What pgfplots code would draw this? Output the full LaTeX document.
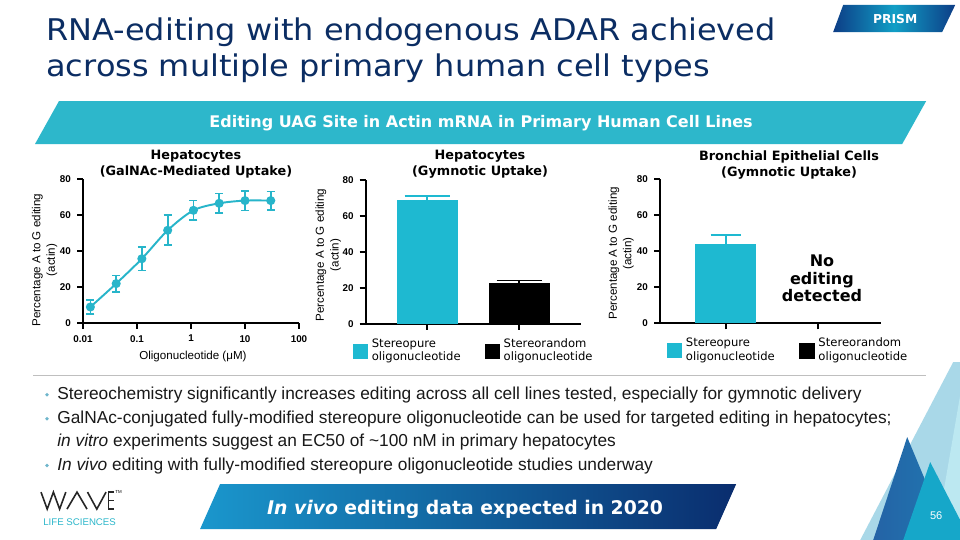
\documentclass[border=0pt]{standalone}
\usepackage{fontspec}
\setmainfont{Liberation Sans}
\newfontfamily\verd{DejaVu Sans}[ItalicFont={DejaVu Sans Oblique},BoldItalicFont={DejaVu Sans Bold Oblique}]
\newfontfamily\titlefont{DejaVu Sans}[FakeStretch=1.07]
\usepackage{pgfplots}
\pgfplotsset{compat=1.18}

\definecolor{navy}{HTML}{0B2D63}
\definecolor{wcyan}{HTML}{2DB7CB}
\definecolor{barcyan}{HTML}{1EB9D1}
\definecolor{linecyan}{HTML}{27B5CA}
\definecolor{tagdark}{HTML}{0D3D86}
\definecolor{taglight}{HTML}{119FC6}
\definecolor{bbleft}{HTML}{1A97CD}
\definecolor{bbright}{HTML}{0A2D6E}
\definecolor{dotc}{HTML}{6FB6CC}
\definecolor{lightc}{HTML}{A9D8E8}
\definecolor{paletri}{HTML}{BCE8F1}
\definecolor{bluetri}{HTML}{2463A6}
\definecolor{cyantri}{HTML}{16A7C9}

\pgfplotsset{
  panel/.style={
    scale only axis, anchor=south west, clip=false,
    axis x line*=bottom, axis y line*=left,
    axis line style={line width=1pt,-},
    tick style={line width=1pt, black},
    tick align=outside, major tick length=3.4pt,
    ymin=0, ymax=80, ytick={0,20,40,60,80},
    /pgf/number format/assume math mode=true,
    ticklabel style={font=\fontsize{5.6}{6.5}\selectfont\bfseries},
    ylabel={Percentage A to G editing\\(actin)},
    ylabel style={font=\fontsize{6.6}{8.3}\selectfont, align=center, anchor=center},
    every axis title shift=0pt,
    title style={font=\verd\bfseries\fontsize{7.3}{9.1}\selectfont, align=center, anchor=north, inner sep=0pt},
  },
  barlegend/.style={
    legend columns=2,
    legend style={draw=none, fill=none, anchor=west, inner sep=0pt,
      font=\verd\fontsize{6.6}{7.8}\selectfont,
      cells={align=left, anchor=west},
      /tikz/every even column/.append style={column sep=0.42cm}},
  },
}

\pgfplotstableread{
x      y     e
0.0137 8.9   3.8
0.0412 21.9  4.5
0.123  35.7  6.5
0.370  51.5  8.3
1.11   62.6  5.5
3.33   66.5  5.4
10     68.0  5.5
30     68.0  5.1
}\galnac

\begin{document}
\begin{tikzpicture}
\path[use as bounding box] (0,0) rectangle (19.2,-10.8);

\begin{scope}[x=0.02cm, y=-0.02cm]
\fill[white] (0,0) rectangle (960,540);
% title
\node[anchor=base west, inner sep=0, font=\titlefont\fontsize{17}{20.5}\selectfont, text=navy] at (46,40) {RNA-editing with endogenous ADAR achieved};
\node[anchor=base west, inner sep=0, font=\titlefont\fontsize{17}{20.5}\selectfont, text=navy] at (46,76) {across multiple primary human cell types};
% PRISM tag
\shade[left color=tagdark, right color=tagdark, middle color=taglight] (843,5) -- (955,5) -- (942,32) -- (833,32) -- cycle;
\node[font=\verd\bfseries\fontsize{7}{8}\selectfont, text=white] at (895,19) {PRISM};
% banner
\fill[wcyan] (59,101) -- (926,101) -- (902,144) -- (35,144) -- cycle;
\node[anchor=base, inner sep=0, font=\verd\bfseries\fontsize{9.1}{10}\selectfont, text=white] at (481,127.7) {Editing UAG Site in Actin mRNA in Primary Human Cell Lines};
% separator
\draw[black!25, line width=0.8pt] (33,375.7) -- (926,375.7);
% bullets
\foreach \yy in {399.3,423.3,470} \fill[dotc] (47,\yy-4.6) circle (1.8);
\begin{scope}[every node/.style={anchor=base west, inner sep=0, font=\fontsize{9.85}{11}\selectfont, text=black!90}]
\node at (57,399.3) {Stereochemistry significantly increases editing across all cell lines tested, especially for gymnotic delivery};
\node at (57,423.3) {GalNAc-conjugated fully-modified stereopure oligonucleotide can be used for targeted editing in hepatocytes;};
\node at (57,446) {\textit{in vitro} experiments suggest an EC50 of \textasciitilde100 nM in primary hepatocytes};
\node at (57,470) {\textit{In vivo} editing with fully-modified stereopure oligonucleotide studies underway};
\end{scope}
% bottom banner
\shade[left color=bbleft, right color=bbright] (220,484) -- (736,484) -- (716,529) -- (200,529) -- cycle;
\node[anchor=base, inner sep=0, font=\verd\bfseries\fontsize{10.7}{12}\selectfont, text=white] at (465,514) {\textit{In vivo} editing data expected in 2020};
% corner triangles
\fill[lightc] (953,362) -- (960,362) -- (960,540) -- (860,540) -- cycle;
\fill[paletri] (960,395) -- (960,540) -- (935,540) -- cycle;
\shade[left color=bluetri, right color=bluetri!70!cyantri] (907,437) -- (873,540) -- (950,540) -- cycle;
\fill[cyantri] (930,462) -- (903,540) -- (960,540) -- (960,520) -- cycle;
\node[font=\fontsize{6.3}{7}\selectfont, text=white] at (936,516) {56};
% logo
\draw[black!85, line width=0.9pt, line join=miter] (41,492) -- (47.2,509) -- (53.4,492) -- (59.6,509) -- (65.8,492);
\draw[black!85, line width=0.9pt, line join=miter] (67,509) -- (77,492) -- (87,509);
\draw[black!85, line width=0.9pt, line join=miter] (87.5,492) -- (96.8,509) -- (106,492);
\draw[black!85, line width=0.9pt] (114,492) -- (108.5,492) -- (108.5,509) -- (114,509) (108.5,500.5) -- (113.5,500.5);
\node[anchor=base west, inner sep=0, font=\fontsize{2.5}{3}\selectfont] at (115,493) {TM};
\node[anchor=base west, inner sep=0, font=\fontsize{5.5}{6}\selectfont, text=wcyan] at (43,525) {LIFE SCIENCES};
\end{scope}

% panel 1
\begin{axis}[panel, at={(1.66cm,-6.46cm)}, width=4.32cm, height=2.88cm,
  xmode=log, xmin=0.01, xmax=100, xminorticks=false,
  xtick={0.01,0.1,1,10,100}, xticklabels={0.01,0.1,1,10,100},
  xlabel={Oligonucleotide (μM)},
  xlabel style={font=\fontsize{6.6}{8.7}\selectfont, at={(axis description cs:0.509,-0.236)}, anchor=center},
  ylabel style={at={(axis description cs:-0.178,0.4375)}},
  title={Hepatocytes\\(GalNAc-Mediated Uptake)},
  title style={at={(axis description cs:0.523,1.2014)}},
]
\addplot[linecyan, line width=1.1pt, smooth, mark=*, mark size=2pt,
  error bars/.cd, y dir=both, y explicit,
  error bar style={line width=1pt, solid},
  error mark options={rotate=90, mark size=2.3pt, line width=1pt}]
  table[x=x, y=y, y error=e] {\galnac};
\end{axis}

% panel 2
\begin{axis}[panel, barlegend, at={(7.314cm,-6.48cm)}, width=4.306cm, height=2.88cm,
  xmin=-0.667, xmax=1.674, xtick={0,1}, xticklabels={},
  ybar, bar width=1.22cm, bar shift=0pt,
  ylabel style={at={(axis description cs:-0.174,0.479)}},
  title={Hepatocytes\\(Gymnotic Uptake)},
  title style={at={(axis description cs:0.531,1.208)}},
  legend style={at={(axis description cs:-0.059,-0.1875)}},
]
\addplot[fill=barcyan, draw=none,
  legend image code/.code={\fill[barcyan] (0cm,-0.15cm) rectangle (0.3cm,0.15cm);},
  error bars/.cd, y dir=plus, y explicit,
  error bar style={barcyan, line width=1pt},
  error mark options={rotate=90, barcyan, mark size=12.8pt, line width=1pt}]
  coordinates {(0,68.7) +- (0,2.2)};
\addplot[fill=black, draw=none,
  legend image code/.code={\fill[black] (0cm,-0.15cm) rectangle (0.3cm,0.15cm);},
  error bars/.cd, y dir=plus, y explicit,
  error bar style={black, line width=1pt},
  error mark options={rotate=90, black, mark size=12.8pt, line width=1pt}]
  coordinates {(1,23.0) +- (0,1.1)};
\legend{{Stereopure\\oligonucleotide},{Stereorandom\\oligonucleotide}}
\end{axis}

% panel 3
\begin{axis}[panel, barlegend, at={(13.2cm,-6.466cm)}, width=4.42cm, height=2.88cm,
  xmin=-0.715, xmax=1.68, xtick={0,1}, xticklabels={},
  ybar, bar width=1.22cm, bar shift=0pt,
  ylabel style={at={(axis description cs:-0.176,0.486)}},
  title={Bronchial Epithelial Cells\\(Gymnotic Uptake)},
  title style={at={(axis description cs:0.584,1.203)}},
  legend style={at={(axis description cs:0.032,-0.19)}},
]
\addplot[fill=barcyan, draw=none,
  legend image code/.code={\fill[barcyan] (0cm,-0.15cm) rectangle (0.3cm,0.15cm);},
  error bars/.cd, y dir=plus, y explicit,
  error bar style={barcyan, line width=1pt},
  error mark options={rotate=90, barcyan, mark size=8.8pt, line width=1pt}]
  coordinates {(0,43.9) +- (0,5.2)};
\addlegendimage{legend image code/.code={\fill[black] (0cm,-0.15cm) rectangle (0.3cm,0.15cm);}}
\node[align=center, font=\verd\bfseries\fontsize{9.1}{9.7}\selectfont] at (axis cs:1.04,25) {No\\editing\\detected};
\legend{{Stereopure\\oligonucleotide},{Stereorandom\\oligonucleotide}}
\end{axis}
\end{tikzpicture}
\end{document}
